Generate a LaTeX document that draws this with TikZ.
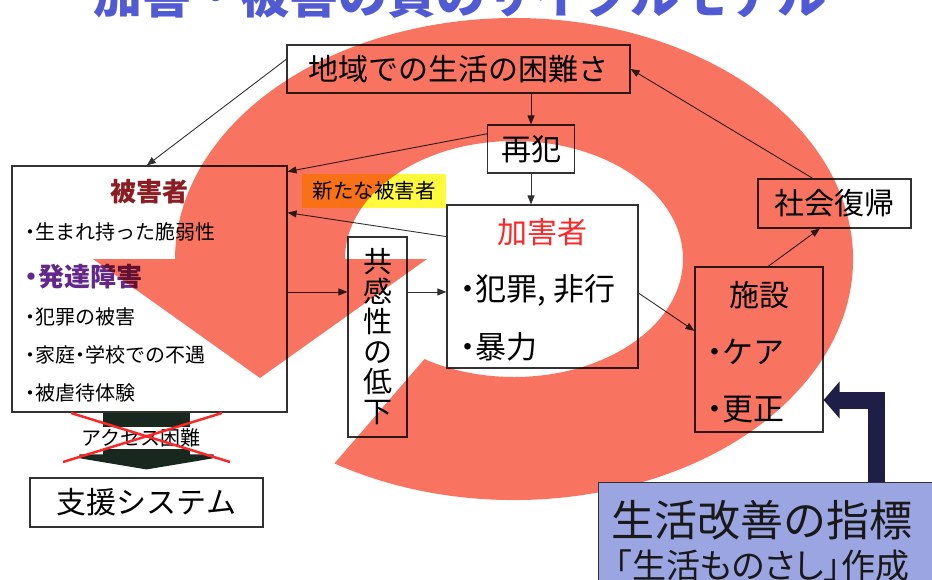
\documentclass[tikz,border=0pt]{standalone}
\usepackage{fontspec}
\setmainfont{Noto Sans CJK JP}
\usetikzlibrary{arrows.meta,calc}
\definecolor{ringred}{RGB}{249,116,96}
\definecolor{titleblue}{RGB}{80,90,210}
\definecolor{boxline}{RGB}{50,50,50}
\definecolor{victimred}{RGB}{140,30,35}
\definecolor{devpurple}{RGB}{100,40,140}
\definecolor{offred}{RGB}{250,40,40}
\definecolor{labelyellow}{RGB}{255,250,60}
\definecolor{navyarrow}{RGB}{30,30,70}
\definecolor{kaizenblue}{RGB}{155,165,225}
\definecolor{accessdark}{RGB}{25,40,30}
\newcommand{\fs}[1]{\fontsize{#1}{#1}\selectfont}
\newcommand{\bul}{{\addfontfeature{RawFeature=+palt}・}}
\tikzset{
  box/.style={draw=boxline, line width=1.1pt, inner sep=0pt, align=center},
  conn/.style={draw=boxline, line width=0.9pt, -{Triangle[length=9pt,width=7pt]}},
  txt/.style={inner sep=0pt},
}
\begin{document}
\begin{tikzpicture}[x=1pt,y=-1pt]
\useasboundingbox (0,0) rectangle (932,579);
\clip (0,0) rectangle (932,579);
% title (cut at top)
\node[txt, anchor=base, font=\bfseries\fs{49}, text=titleblue] (title) at (460,13) {加害・被害の負のサイクルモデル};
% boxes
\node[box, minimum width=343, minimum height=48, font=\fs{30}] (chiiki) at (458.5,69) {地域での生活の困難さ};
\node[box, fill=white, minimum width=87, minimum height=48, font=\fs{30}] (saihan) at (531,149) {再犯};
\node[box, fill=white, minimum width=191, minimum height=163] (kagai) at (542.5,286.5) {};
\node[txt, font=\fs{30}, text=offred] (kagaiT) at (542.5,232) {加害者};
\node[txt, font=\fs{31}, anchor=west] (kagai1) at (460,290) {\bul 犯罪, 非行};
\node[txt, font=\fs{31}, anchor=west] (kagai2) at (460,347) {\bul 暴力};
\node[box, minimum width=59, minimum height=200, font=\fontsize{29}{30}\selectfont] (kyokan) at (377.5,337) {共\\感\\性\\の\\低\\下};
\node[box, minimum width=275, minimum height=246] (higai) at (149.5,289) {};
\node[txt, font=\bfseries\fs{26}, text=victimred] (higaiT) at (149,192) {被害者};
\node[txt, font=\fs{20}, anchor=west] (h1) at (25,232) {\bul 生まれ持った脆弱性};
\node[txt, font=\bfseries\fs{26}, text=devpurple, anchor=west] (h2) at (25,277) {\bul 発達障害};
\node[txt, font=\fs{20}, anchor=west] (h3) at (25,317) {\bul 犯罪の被害};
\node[txt, font=\fs{20}, anchor=west] (h4) at (25,355) {\bul 家庭\bul 学校での不遇};
\node[txt, font=\fs{20}, anchor=west] (h5) at (25,393) {\bul 被虐待体験};
\node[fill=labelyellow, inner sep=0pt, minimum width=144, minimum height=34, font=\fs{20.5}] (arata) at (374,191) {新たな被害者};
\node[box, minimum width=153, minimum height=49, font=\fs{30}] (shakai) at (834.5,203.5) {社会復帰};
\node[box, minimum width=128, minimum height=165] (shisetsu) at (759,349.5) {};
\node[txt, font=\fs{30}] (shisetsuT) at (759,295) {施設};
\node[txt, font=\fs{31}, anchor=west] (s1) at (707,352) {\bul ケア};
\node[txt, font=\fs{31}, anchor=west] (s2) at (707,410) {\bul 更正};
\node[box, fill=white, minimum width=233, minimum height=49, font=\fs{30}] (shien) at (146.5,502.5) {支援システム};
% connectors
\draw[conn] ($(chiiki.north west)!0.3!(chiiki.south west)$) -- ($(higai.north west)!0.49!(higai.north east)$);
\draw[conn] (chiiki.south -| saihan.north) -- (saihan.north);
\draw[conn] (saihan.south) -- (kagai.north -| saihan.south);
\draw[conn] ($(saihan.north west)!0.19!(saihan.south west)$) -- ($(higai.north east)!0.025!(higai.south east)$);
\draw[conn] ($(kagai.north west)!0.196!(kagai.south west)$) -- ($(higai.north east)!0.191!(higai.south east)$);
\coordinate (hk) at ($(higai.north east)!0.512!(higai.south east)$);
\draw[conn] (hk) -- (hk -| kyokan.west);
\draw[conn] (kyokan.east |- hk) -- (kagai.west |- hk);
\draw[conn] ($(kagai.north east)!0.54!(kagai.south east)$) -- ($(shisetsu.north west)!0.388!(shisetsu.south west)$);
\draw[conn] ($(shisetsu.north west)!0.57!(shisetsu.north east)$) -- ($(shakai.south west)!0.405!(shakai.south east)$);
\draw[conn] ($(shakai.north west)!0.36!(shakai.north east)$) -- (chiiki.east);
% access arrow
\draw[accessdark, line width=87pt, -{Triangle[length=15pt,width=179pt]}] (higai.south -| shien.north) -- ($(shien.north)+(0,-8)$);
\node[txt, fill=white, inner xsep=2pt, inner ysep=2pt, font=\fs{20}] (access) at (141,438) {アクセス困難};
\draw[offred, line width=2.5pt] (71,413) -- (230,462);
\draw[offred, line width=2.5pt] (222,413) -- (63,462);
% ring arrow
\begin{scope}[blend mode=multiply]
\fill[ringred] (334.4,463.4) arc[start angle=122, end angle=-180, x radius=339, y radius=241]
  -- (93,259) -- (260,378) -- (427,259) -- (345,259)
  arc[start angle=-180, end angle=122, x radius=169, y radius=118] -- cycle;
\end{scope}
% improvement box
\node[draw=boxline, line width=1.1pt, fill=kaizenblue, minimum width=342, minimum height=110, anchor=north west] (kaizen) at (598,482) {};
\node[txt, font=\fs{43}, text=black!90] (k1) at (762,520) {生活改善の指標};
\node[txt, font=\fs{34}, text=black!90] (k2) at (762,566) {\addfontfeature{RawFeature=+palt}「生活ものさし」作成};
\coordinate (navyturn) at (876,400);
\draw[navyarrow, line width=17pt, -{Triangle[length=16pt,width=36pt]}] (navyturn |- kaizen.north) -- (navyturn) -- (shisetsu.east |- navyturn);
\end{tikzpicture}
\end{document}
